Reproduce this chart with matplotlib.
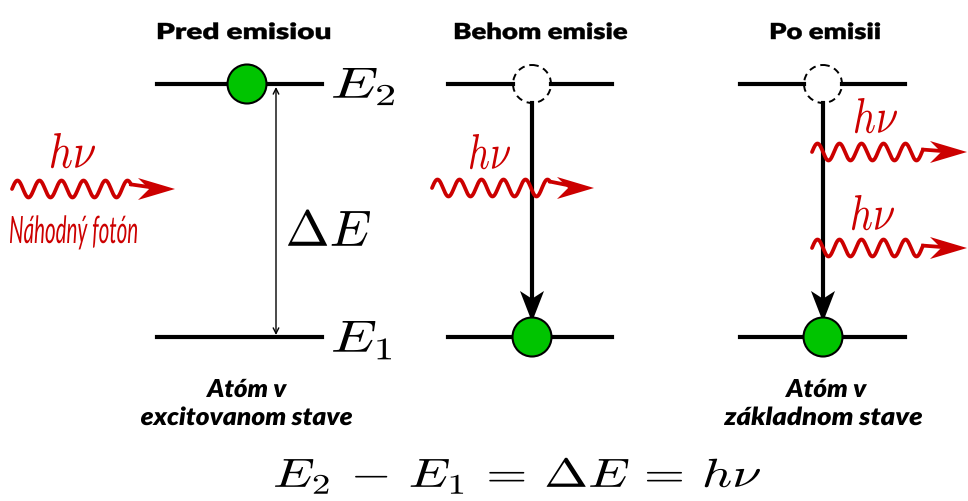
import numpy as np
import matplotlib.pyplot as plt
from matplotlib.patches import Circle, Polygon, PathPatch
from matplotlib.textpath import TextPath
from matplotlib.font_manager import FontProperties
from matplotlib.transforms import Affine2D

plt.rcParams['mathtext.fontset'] = 'cm'

# diagram layout, in pixels of the 968x501 picture
titles = ['Pred emisiou', 'Behom emisie', 'Po emisii']
title_box = [(158, 330), (455, 627), (771, 880)]
level_x0 = [157, 448, 740]
level_x1 = [322, 612, 905]
y_e2 = 84
y_e1 = 337
electron_x = [247, 532, 823]
electron_y = [y_e2, y_e1, y_e1]
hole_x = [None, 532, 823]

# photons: (x start, x tip, y)
photons = [(12, 175, 189), (432, 594, 188), (812, 967, 152), (812, 967, 248)]
# hv labels: (x0, x1, top, baseline)
hv_box = [(51, 95, 133, 168), (470, 510, 134, 169), (855, 897, 98, 133), (852, 894, 195, 230)]

bottom_lines = [['Atóm v', 'excitovanom stave'], ['Atóm v', 'základnom stave']]
bottom_box = [[(206, 287), (141, 352)], [(785, 867), (724, 922)]]
bottom_base = [397, 425]

RED = '#cc0000'
GREEN = '#00c400'

fig = plt.figure(figsize=(9.68, 5.01), dpi=100)
ax = fig.add_axes([0, 0, 1, 1])
ax.set_xlim(0, 968)
ax.set_ylim(501, 0)
ax.axis('off')


def fit_text(ax, s, prop, x0, x1, top, base, ref='H', color='black', lw=0):
    # draw s as a path squeezed into x0..x1, with ref's top at `top`
    h = TextPath((0, 0), ref, size=1, prop=prop).get_extents()
    p = TextPath((0, 0), s, size=1, prop=prop)
    e = p.get_extents()
    sy = (base - top) / h.y1
    sx = (x1 - x0) / e.width
    tr = Affine2D().translate(-e.x0, 0).scale(sx, -sy).translate(x0, base)
    ax.add_patch(PathPatch(tr.transform_path(p), fc=color, ec=color, lw=lw, zorder=7))


def head(ax, tip, direction, length, half, color, notch=0.3):
    tx, ty = tip
    dx, dy = direction
    nx, ny = -dy, dx
    bx, by = tx - dx * length, ty - dy * length
    mx, my = tx - dx * length * (1 - notch), ty - dy * length * (1 - notch)
    pts = [(tx, ty), (bx + nx * half, by + ny * half), (mx, my),
           (bx - nx * half, by - ny * half)]
    ax.add_patch(Polygon(pts, closed=True, color=color, lw=0, zorder=5))


def photon(ax, x0, x1, y):
    wave_end = x1 - 44
    x = np.linspace(x0, wave_end, 400)
    period = 22.0
    yy = y - 8.5 * np.sin(2 * np.pi * (x - x0) / period)
    ax.plot(x, yy, color=RED, lw=2.7, solid_capstyle='round', zorder=4)
    ax.plot([wave_end, x1 - 12], [yy[-1], y], color=RED, lw=2.7, zorder=4)
    head(ax, (x1, y), (1, 0), 37, 11, RED)


title_font = FontProperties(family='Lato', weight='heavy')
label_font = FontProperties(family='Lato', weight='heavy', style='italic')
red_font = FontProperties(family='Lato', style='italic')

for i in range(3):
    fit_text(ax, titles[i], title_font, title_box[i][0], title_box[i][1], 23, 39, lw=0.3)
    if hole_x[i] is None:
        ax.plot([level_x0[i], level_x1[i]], [y_e2, y_e2], color='black', lw=3, zorder=2)
    else:
        hx = hole_x[i]
        ax.plot([level_x0[i], hx - 19], [y_e2, y_e2], color='black', lw=3, zorder=2)
        ax.plot([hx + 19, level_x1[i]], [y_e2, y_e2], color='black', lw=3, zorder=2)
        ax.add_patch(Circle((hx, y_e2), 19, fill=False, ec='black', lw=1.4,
                            ls=(0, (3.5, 2.5)), zorder=3))
        ax.plot([hx, hx], [y_e2 + 19, y_e1 - 35], color='black', lw=3, zorder=3)
        head(ax, (hx, y_e1 - 15), (0, 1), 31, 12, 'black', notch=0.25)
    ax.plot([level_x0[i], level_x1[i]], [y_e1, y_e1], color='black', lw=3, zorder=2)
    ax.add_patch(Circle((electron_x[i], electron_y[i]), 19.5, fc=GREEN,
                        ec='black', lw=1.5, zorder=6))

# energy gap arrow and labels
ax.annotate('', xy=(276, y_e2 + 3), xytext=(276, y_e1 - 2),
            arrowprops=dict(arrowstyle='<->', color='black', lw=1.0,
                            shrinkA=0, shrinkB=0))
fit_text(ax, r'$E_2$', None, 333, 394, 68, 98, ref=r'$E$')
fit_text(ax, r'$E_1$', None, 333, 391, 321, 352, ref=r'$E$')
fit_text(ax, r'$\Delta E$', None, 288, 370, 211, 246, ref=r'$E$')

for (x0, x1, y), (hx0, hx1, ht, hb) in zip(photons, hv_box):
    photon(ax, x0, x1, y)
    fit_text(ax, r'$h\nu$', None, hx0, hx1, ht, hb, ref=r'$h$', color=RED)

fit_text(ax, 'Náhodný fotón', red_font, 10, 137, 216, 243, color=RED)

for lines, boxes in zip(bottom_lines, bottom_box):
    for txt, (bx0, bx1), base in zip(lines, boxes, bottom_base):
        fit_text(ax, txt, label_font, bx0, bx1, base - 18, base)

fit_text(ax, r'$E_2 \,-\, E_1 \,=\, \Delta E \,=\, h\nu$', None, 275, 760, 459, 487, ref=r'$E$')

fig.savefig('out.png', dpi=100)
